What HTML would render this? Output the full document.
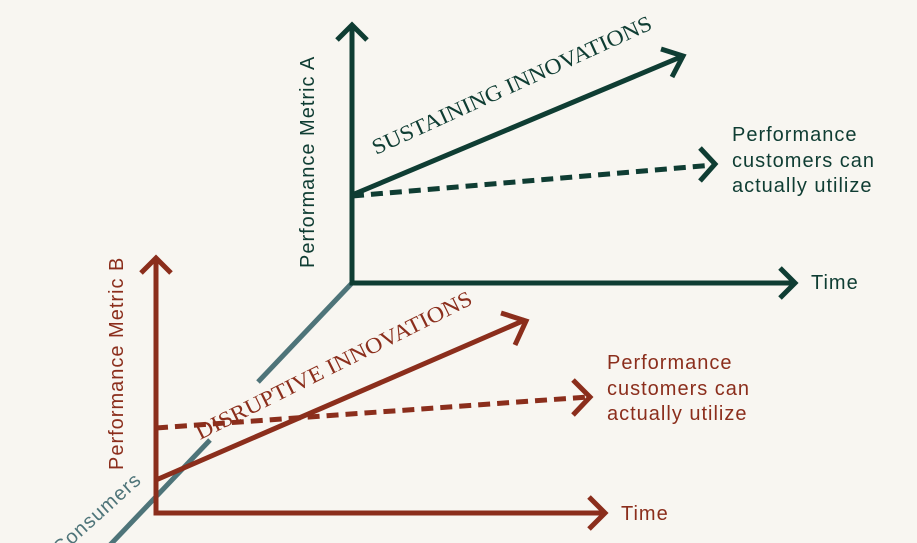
<!DOCTYPE html>
<html><head><meta charset="utf-8"><style>
html,body{margin:0;padding:0;background:#f8f6f1;}
svg{display:block}
.s{font-family:"Liberation Sans",sans-serif;font-size:20px;letter-spacing:1px}
.f{font-family:"Liberation Serif",serif;font-size:22px}
</style></head><body>
<svg width="917" height="543" viewBox="0 0 917 543" xmlns="http://www.w3.org/2000/svg">
<rect width="917" height="543" fill="#f8f6f1"/>
<g stroke="#4e7479" stroke-width="5" fill="none">
<line x1="352" y1="283" x2="258" y2="382"/>
<line x1="210" y1="440" x2="110" y2="545"/>
</g>
<text class="s" fill="#4e7479" transform="translate(60,556) rotate(-42)">Consumers</text>
<g stroke="#0f3d33" stroke-width="5" fill="none">
<polyline points="352,25 352,283 795,283"/>
<polyline points="337,40 352,25 367,40"/>
<polyline points="780,268 795,283 780,298"/>
<line x1="352" y1="195" x2="683" y2="56"/>
<polyline points="661,49 683,56 672,77"/>
<line x1="352" y1="196" x2="713" y2="165" stroke-dasharray="12,7"/>
<polyline points="700,148 715,164 700,181"/>
</g>
<text class="f" fill="#0f3d33" textLength="305" lengthAdjust="spacingAndGlyphs" transform="translate(376,155) rotate(-24.5)">SUSTAINING INNOVATIONS</text>
<text class="s" fill="#0f3d33" transform="translate(314,268) rotate(-90)">Performance Metric A</text>
<text class="s" fill="#0f3d33" x="732" y="141">Performance</text>
<text class="s" fill="#0f3d33" x="732" y="167">customers can</text>
<text class="s" fill="#0f3d33" x="732" y="192">actually utilize</text>
<text class="s" fill="#0f3d33" x="811" y="289">Time</text>
<g stroke="#8b2e1c" stroke-width="5" fill="none">
<polyline points="156,258 156,513 605,513"/>
<polyline points="141,273 156,258 171,273"/>
<polyline points="589,497 605,513 589,529"/>
<line x1="156" y1="480" x2="525" y2="320"/>
<polyline points="501,313 526,321 515,345"/>
<line x1="156" y1="428" x2="588" y2="397" stroke-dasharray="12,7"/>
<polyline points="573,380 590,397 573,415"/>
</g>
<text class="f" fill="#8b2e1c" textLength="306" lengthAdjust="spacingAndGlyphs" transform="translate(200,440) rotate(-26.5)">DISRUPTIVE INNOVATIONS</text>
<text class="s" fill="#8b2e1c" transform="translate(123,470) rotate(-90)">Performance Metric B</text>
<text class="s" fill="#8b2e1c" x="607" y="369">Performance</text>
<text class="s" fill="#8b2e1c" x="607" y="395">customers can</text>
<text class="s" fill="#8b2e1c" x="607" y="420">actually utilize</text>
<text class="s" fill="#8b2e1c" x="621" y="520">Time</text>
</svg>
</body></html>
